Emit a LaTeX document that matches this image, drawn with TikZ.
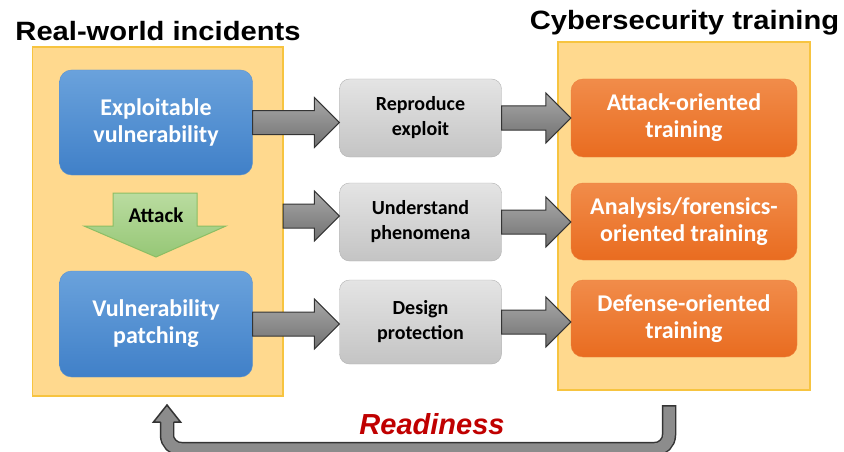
\documentclass[tikz,border=0pt]{standalone}
\usepackage{fontspec}
\usepackage{graphicx}
\setmainfont{Carlito}
\newfontfamily\headfont{Liberation Sans}
\usetikzlibrary{calc}

\definecolor{panelfill}{RGB}{255,217,142}
\definecolor{panelline}{RGB}{247,196,64}
\definecolor{blueTop}{RGB}{106,162,220}
\definecolor{blueBot}{RGB}{64,128,200}
\definecolor{blueLine}{RGB}{92,146,206}
\definecolor{orangeTop}{RGB}{241,140,74}
\definecolor{orangeBot}{RGB}{233,108,32}
\definecolor{orangeLine}{RGB}{236,128,60}
\definecolor{greyTop}{RGB}{228,228,228}
\definecolor{greyBot}{RGB}{196,196,196}
\definecolor{greyLine}{RGB}{178,178,178}
\definecolor{greenTop}{RGB}{186,220,160}
\definecolor{greenBot}{RGB}{150,199,118}
\definecolor{greenLine}{RGB}{140,190,100}
\definecolor{arrowTop}{RGB}{168,168,168}
\definecolor{arrowBot}{RGB}{112,112,112}
\definecolor{arrowLine}{RGB}{52,52,52}
\definecolor{arrowGrey}{RGB}{140,140,140}
\definecolor{readyred}{RGB}{192,0,0}

\tikzset{
    panel/.style={draw=panelline,fill=panelfill,line width=1.2pt,inner sep=0pt},
    titletext/.style={font=\headfont\fontsize{26.5}{30}\selectfont\bfseries,inner sep=0pt},
    bigbox/.style={rounded corners=12pt,align=center,inner sep=0pt,
        font=\fontsize{24}{27}\selectfont\bfseries},
    bluebox/.style={bigbox,top color=blueTop,bottom color=blueBot,draw=blueLine,
        text=white,minimum width=193pt},
    orangebox/.style={bigbox,top color=orangeTop,bottom color=orangeBot,draw=orangeLine,
        text=white,minimum width=226pt},
    greybox/.style={rounded corners=10pt,align=center,inner sep=0pt,
        top color=greyTop,bottom color=greyBot,draw=greyLine,text=black,
        font=\fontsize{20}{25}\selectfont\bfseries,minimum width=162pt},
    blockarrow/.style={top color=arrowTop,bottom color=arrowBot,draw=arrowLine,
        line width=1pt,line join=miter},
    attackarrow/.style={top color=greenTop,bottom color=greenBot,draw=greenLine,
        line width=1pt}
}

% fat arrow from #1 to the x of #2, at the height of #1
\newcommand{\blockarrow}[2]{%
    \draw[blockarrow] let \p1=(#1), \p2=(#2) in
        (\x1,\y1+12pt) -- (\x2-25pt,\y1+12pt) -- (\x2-25pt,\y1+25pt)
        -- (\x2,\y1) -- (\x2-25pt,\y1-25pt) -- (\x2-25pt,\y1-12pt)
        -- (\x1,\y1-12pt) -- cycle;
}

\begin{document}
\begin{tikzpicture}[x=1pt,y=-1pt]
    \useasboundingbox (0,0) rectangle (844,452);

    % titles
    \node[titletext,anchor=base] (rwtitle) at (158,41)
        {\scalebox{1.1}[1]{Real-world incidents}};
    \node[titletext,anchor=base] (cttitle) at (684.5,30)
        {\scalebox{1.1}[1]{Cybersecurity training}};

    % the two yellow panels
    \node[panel,minimum width=250.5pt,minimum height=349pt] (rwpanel) at (157.75,221.5) {};
    \node[panel,minimum width=252pt,minimum height=348pt] (ctpanel) at (684,216) {};

    % left column
    \node[bluebox,minimum height=105pt] (expl) at (156,122.5)
        {Exploitable\\vulnerability};
    \node[bluebox,minimum height=106pt] (patch) at (156,324)
        {Vulnerability\\patching};
    \draw[attackarrow] (113,193) -- (197,193) -- (197,226) -- (226,226)
        -- (156,257) -- (84,226) -- (113,226) -- cycle;
    \node[font=\fontsize{21}{24}\selectfont\bfseries,anchor=base,inner sep=0pt]
        (attack) at (156,222) {Attack};

    % middle column
    \node[greybox,minimum height=78pt] (repro) at (420.5,118) {Reproduce\\exploit};
    \node[greybox,minimum height=78pt] (under) at (420.5,222) {Understand\\phenomena};
    \node[greybox,minimum height=84pt] (design) at (420.5,322) {Design\\protection};

    % right column
    \node[orangebox,minimum height=78pt] (atktrain) at (684,118)
        {Attack-oriented\\training};
    \node[orangebox,minimum height=77pt] (antrain) at (684,221.5)
        {Analysis/forensics-\\oriented training};
    \node[orangebox,minimum height=77pt] (deftrain) at (684,318.5)
        {Defense-oriented\\training};

    % block arrows
    \coordinate (undsrc) at (283,216);
    \blockarrow{expl.east}{repro.west}
    \blockarrow{undsrc}{under.west}
    \blockarrow{patch.east}{design.west}
    \blockarrow{repro.east}{atktrain.west}
    \blockarrow{under.east}{antrain.west}
    \blockarrow{design.east}{deftrain.west}

    % feedback arrow
    \coordinate (fbtop) at (669,405);
    \coordinate (fbtip) at (167,405);
    \draw[arrowLine,line width=14.5pt,rounded corners=14pt]
        (fbtop) |- ([yshift=-44pt]fbtip) -- ([yshift=-17pt]fbtip);
    \draw[arrowGrey,line width=11.5pt,rounded corners=14pt,shorten <=1.5pt]
        (fbtop) |- ([yshift=-44pt]fbtip) -- ([yshift=-17pt]fbtip);
    \fill[arrowGrey] ([shift={(-13.5pt,-17pt)}]fbtip) -- (fbtip)
        -- ([shift={(13.5pt,-17pt)}]fbtip) -- cycle;
    \draw[arrowLine,line width=1.5pt,line join=miter]
        ([shift={(-6.5pt,-17pt)}]fbtip) -- ([shift={(-13.5pt,-17pt)}]fbtip)
        -- (fbtip) -- ([shift={(13.5pt,-17pt)}]fbtip) -- ([shift={(6.5pt,-17pt)}]fbtip);
    \node[font=\headfont\fontsize{29}{32}\selectfont\bfseries\itshape,text=readyred,
        anchor=base,inner sep=0pt] (ready) at (432,434) {Readiness};
\end{tikzpicture}
\end{document}
